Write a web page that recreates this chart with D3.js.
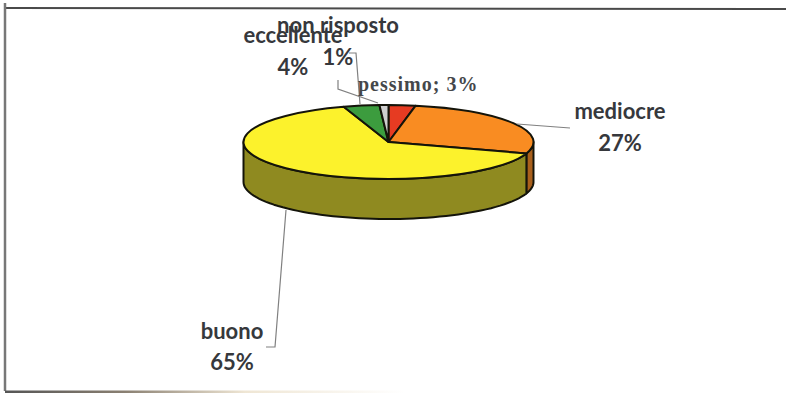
<!DOCTYPE html>
<html>
<head>
<meta charset="utf-8">
<script src="https://cdn.jsdelivr.net/npm/d3@7"></script>
<style>
  html, body { margin: 0; padding: 0; background: #fff; }
  svg { display: block; }
  .lbl { font-family: Lato, "Open Sans", sans-serif; font-weight: 700; font-size: 22px; fill: #36383c; text-anchor: middle; }
  .lbl-serif { font-family: "Liberation Serif", serif; font-weight: 700; font-size: 20px; letter-spacing: 1px; fill: #45474a; }
</style>
</head>
<body>
<svg id="chart" width="786" height="393"></svg>
<script>
// Survey answers, clockwise from twelve o'clock
const categories = ["pessimo", "mediocre", "buono", "eccellente", "non risposto"];
const shares = [3, 27, 65, 4, 1];
const topColors = ["#e63b22", "#f98c22", "#fcf22c", "#3c9c3e", "#cfcfcf"];
const wallColors = ["#8f2a18", "#a9601c", "#8f8a20", "#2a6a2c", "#8c8c8c"];

const width = 786, height = 393;
const cx = 388.5, cy = 142, rx = 145, ry = 37, depth = 40;

const svg = d3.select("#chart");

// Frame: top and left rules plus the bottom rule that fades away to the right
const defs = svg.append("defs");
const fade = defs.append("linearGradient").attr("id", "bottomRule");
fade.append("stop").attr("offset", "0").attr("stop-color", "#555");
fade.append("stop").attr("offset", "0.3").attr("stop-color", "#8a8072");
fade.append("stop").attr("offset", "0.6").attr("stop-color", "#efe6d4");
fade.append("stop").attr("offset", "1").attr("stop-color", "#ffffff");

svg.append("line").attr("x1", 5).attr("x2", width).attr("y1", 8).attr("y2", 9)
  .attr("stroke", "#4a4a4a").attr("stroke-width", 2);
svg.append("line").attr("x1", 5).attr("x2", 5).attr("y1", 3).attr("y2", 391)
  .attr("stroke", "#777").attr("stroke-width", 2.5);
svg.append("rect").attr("x", 5).attr("y", 390.5).attr("width", 400).attr("height", 2.5)
  .attr("fill", "url(#bottomRule)");

// Slice angles from the data
const pie = d3.pie().sort(null).value(d => d);
const arcs = pie(shares);

// Ellipse point for an angle measured clockwise from the top
const px = a => cx + rx * Math.sin(a);
const py = a => cy - ry * Math.cos(a);

const g = svg.append("g");

// Outer wall: only the part of each slice on the near side of the disc shows
const wallLine = d3.line();
arcs.forEach((a, i) => {
  const from = Math.max(a.startAngle, Math.PI / 2);
  const to = Math.min(a.endAngle, 3 * Math.PI / 2);
  if (to <= from) return;
  const angles = d3.range(0, 61).map(k => from + (to - from) * k / 60);
  const upper = angles.map(t => [px(t), py(t)]);
  const lower = angles.slice().reverse().map(t => [px(t), py(t) + depth]);
  g.append("path")
    .attr("d", wallLine(upper.concat(lower)) + "Z")
    .attr("fill", wallColors[i])
    .attr("stroke", "#14140a")
    .attr("stroke-width", 2)
    .attr("stroke-linejoin", "round");
});

// Top face: a circular arc squashed into the ellipse
const arcGen = d3.arc().innerRadius(0).outerRadius(rx);
g.append("g")
  .attr("transform", `translate(${cx},${cy}) scale(1,${ry / rx})`)
  .selectAll("path")
  .data(arcs)
  .join("path")
  .attr("d", arcGen)
  .attr("fill", (d, i) => topColors[i])
  .attr("stroke", "#14140a")
  .attr("stroke-width", 2)
  .attr("stroke-linejoin", "round")
  .attr("vector-effect", "non-scaling-stroke");

// Leader lines from each label to its slice
const leaders = [
  [[517, 124], [570, 128]],
  [[286, 210], [275, 347], [266, 347]],
  [[360, 104], [356, 53], [349, 53]],
  [[378, 103], [338, 89], [338, 80]]
];
const leaderLine = d3.line();
svg.append("g").selectAll("path")
  .data(leaders)
  .join("path")
  .attr("d", leaderLine)
  .attr("fill", "none")
  .attr("stroke", "#808080")
  .attr("stroke-width", 1.2);

// Two-line labels: name above, share below
const labelSpots = [
  { i: 1, x: 620, y1: 119, y2: 151 },
  { i: 2, x: 232, y1: 339, y2: 370 },
  { i: 3, x: 293, y1: 43, y2: 75 },
  { i: 4, x: 338, y1: 33, y2: 65 }
];
const labels = svg.append("g");
labelSpots.forEach(s => {
  labels.append("text").attr("class", "lbl").attr("x", s.x).attr("y", s.y1).text(categories[s.i]);
  labels.append("text").attr("class", "lbl").attr("x", s.x).attr("y", s.y2).text(shares[s.i] + "%");
});

// The one label set on a single line in a serif face
labels.append("text").attr("class", "lbl-serif").attr("x", 358).attr("y", 91)
  .text(`${categories[0]}; ${shares[0]}%`);
</script>
</body>
</html>
